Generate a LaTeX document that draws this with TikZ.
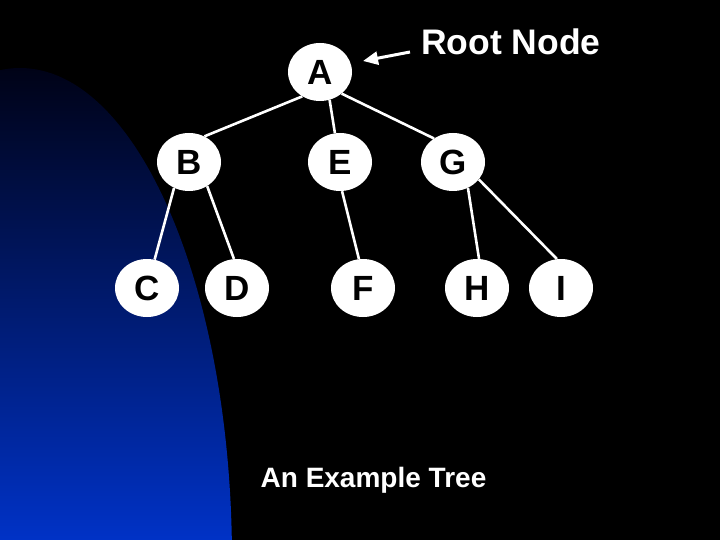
\documentclass[tikz,border=0pt]{standalone}
\usepackage{fontspec}
\setmainfont{Liberation Sans}
\usetikzlibrary{shapes.geometric,arrows.meta}
\definecolor{bluetop}{RGB}{0,2,22}
\definecolor{bluemid}{RGB}{0,32,140}
\definecolor{bluebot}{RGB}{0,50,198}
\tikzset{
  treenode/.style={ellipse, fill=white, draw=none, minimum width=64pt, minimum height=58pt,
    inner sep=0pt, text height=25pt, text depth=0pt,
    font=\fontsize{35}{35}\selectfont\bfseries, text=black},
  treeedge/.style={draw=white, line width=2.6pt},
  bigtext/.style={text=white, inner sep=0pt, font=\bfseries}
}
\begin{document}
\begin{tikzpicture}[x=1pt, y=-1pt]
  \fill[black] (0,0) rectangle (720,540);
  \useasboundingbox (0,0) rectangle (720,540);
  \begin{scope}
    \clip (0,0) rectangle (720,540);
    \clip (20,560) ellipse [x radius=212, y radius=492];
    \shade[top color=bluetop, middle color=bluemid, bottom color=bluebot] (0,66) rectangle (240,540);
  \end{scope}

  \node[treenode] (A) at (320,72) {A};
  \node[treenode] (B) at (189,162) {B};
  \node[treenode] (E) at (340,162) {E};
  \node[treenode] (G) at (453,162) {G};
  \node[treenode] (C) at (147,288) {C};
  \node[treenode] (D) at (237,288) {D};
  \node[treenode] (F) at (363,288) {F};
  \node[treenode] (H) at (477,288) {H};
  \node[treenode] (I) at (561,288) {I};

  \draw[treeedge] (A.234) -- (B.59);
  \draw[treeedge] (A.289) -- (E.100);
  \draw[treeedge] (A.315) -- (G.129);
  \draw[treeedge] (B.240) -- (C.75);
  \draw[treeedge] (B.307) -- (D.96);
  \draw[treeedge] (E.274) -- (F.98);
  \draw[treeedge] (G.300) -- (H.86);
  \draw[treeedge] (G.326) -- (I.98);

  \node[bigtext, anchor=base west, font=\fontsize{35.5}{35.5}\selectfont\bfseries] (root) at (421,55) {Root Node};
  \coordinate (arrtail) at (410,52);
  \coordinate (arrtip) at (363,61);
  \draw[white, line width=3pt, -{Triangle[length=15pt,width=13pt]}] (arrtail) -- (arrtip);

  \node[bigtext, anchor=base, font=\fontsize{28}{28}\selectfont\bfseries] (caption) at (373.5,487) {An Example Tree};
\end{tikzpicture}
\end{document}
